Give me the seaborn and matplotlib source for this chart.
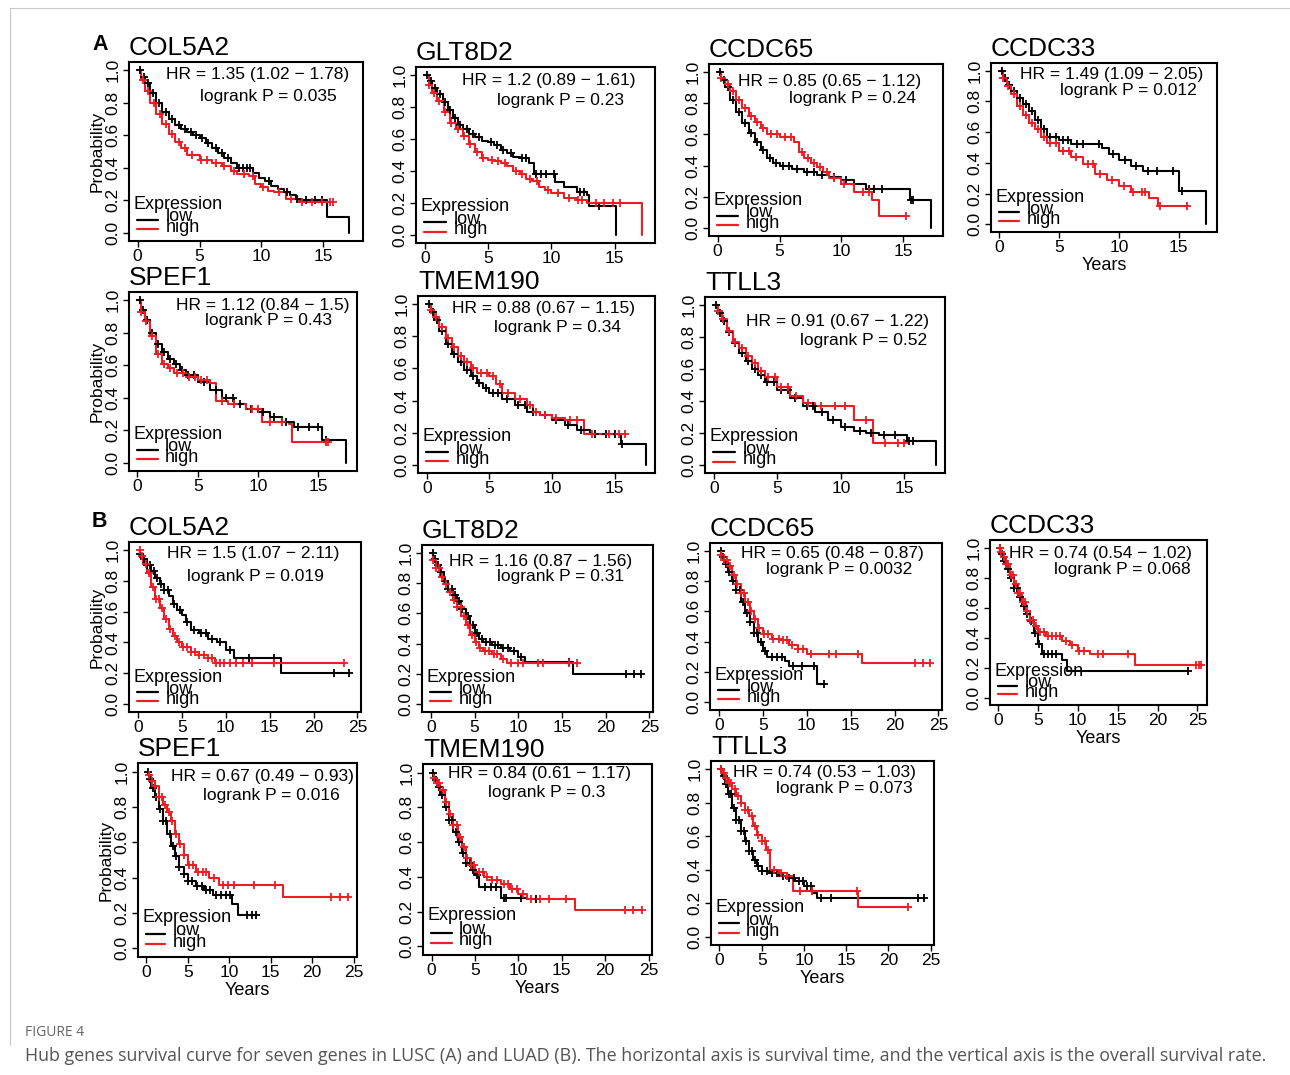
import numpy as np
import pandas as pd
import seaborn as sns
import matplotlib.pyplot as plt
from matplotlib.lines import Line2D

# ---------------- A: LUSC ----------------
# step times / survival after each step / censor times (years)
a_col5a2_low_t = [0, 0.3, 0.6, 1.0, 1.5, 2.0, 2.5, 3.0, 3.5, 4.0, 4.5, 5.0, 5.5, 6.0, 6.5, 7.0, 7.5, 8.0, 9.3, 9.8, 10.3, 10.8, 11.3, 11.8, 12.3, 12.8, 13.2, 15.3, 17.1]
a_col5a2_low_s = [1.0, 0.96, 0.92, 0.86, 0.80, 0.74, 0.70, 0.66, 0.64, 0.62, 0.60, 0.58, 0.55, 0.52, 0.49, 0.46, 0.43, 0.40, 0.37, 0.34, 0.32, 0.29, 0.27, 0.25, 0.23, 0.21, 0.20, 0.10, 0.0]
a_col5a2_low_c = [0.2, 0.5, 0.8, 1.2, 1.7, 2.3, 2.8, 3.3, 3.8, 4.3, 4.7, 5.2, 5.7, 6.3, 6.8, 7.3, 8.2, 8.5, 8.8, 9.1, 10.6, 12.1, 12.9, 13.6, 14.3, 14.9]
a_col5a2_high_t = [0, 0.3, 0.6, 1.0, 1.5, 2.0, 2.5, 3.0, 3.5, 4.0, 5.0, 6.0, 6.8, 7.5, 8.0, 9.0, 9.5, 10.0, 10.5, 11.0, 12.0, 13.0, 15.8]
a_col5a2_high_s = [1.0, 0.94, 0.87, 0.80, 0.73, 0.67, 0.61, 0.56, 0.52, 0.48, 0.45, 0.43, 0.41, 0.38, 0.36, 0.35, 0.30, 0.28, 0.26, 0.25, 0.21, 0.19, 0.19]
a_col5a2_high_c = [0.4, 0.8, 1.3, 1.8, 2.3, 2.8, 3.3, 3.8, 4.4, 5.1, 5.6, 6.3, 7.0, 7.8, 8.6, 9.3, 10.1, 11.4, 12.4, 13.3, 14.1, 14.9, 15.5, 15.8]

a_glt8d2_low_t = [0, 0.3, 0.6, 1.0, 1.4, 1.8, 2.2, 2.6, 3.0, 3.5, 4.0, 4.5, 5.0, 5.5, 6.0, 6.5, 7.0, 7.5, 8.2, 8.6, 10.3, 11.0, 12.0, 12.8, 13.0, 15.1]
a_glt8d2_low_s = [1.0, 0.96, 0.92, 0.88, 0.83, 0.78, 0.73, 0.69, 0.66, 0.63, 0.61, 0.59, 0.58, 0.56, 0.53, 0.51, 0.49, 0.48, 0.45, 0.38, 0.33, 0.30, 0.27, 0.25, 0.18, 0.0]
a_glt8d2_low_c = [0.2, 0.5, 0.8, 1.2, 1.6, 2.0, 2.4, 2.8, 3.3, 3.8, 4.3, 5.2, 5.7, 6.2, 6.8, 7.7, 8.0, 8.8, 9.2, 9.6, 10.2, 12.3, 12.6, 13.8]
a_glt8d2_high_t = [0, 0.3, 0.6, 1.0, 1.5, 2.0, 2.5, 3.0, 3.5, 4.0, 4.5, 5.0, 5.5, 6.0, 6.5, 7.0, 7.5, 8.0, 8.5, 9.0, 9.5, 10.0, 11.0, 12.0, 12.8, 17.2]
a_glt8d2_high_s = [1.0, 0.94, 0.89, 0.84, 0.77, 0.70, 0.66, 0.62, 0.57, 0.52, 0.48, 0.47, 0.46, 0.45, 0.43, 0.40, 0.38, 0.35, 0.34, 0.30, 0.28, 0.26, 0.23, 0.22, 0.20, 0.0]
a_glt8d2_high_c = [0.3, 0.7, 1.1, 1.6, 2.1, 2.6, 3.1, 3.6, 4.1, 4.6, 5.3, 5.8, 6.3, 7.2, 7.7, 8.3, 8.9, 9.7, 10.5, 11.4, 12.1, 12.4, 13.5, 14.2, 14.9, 15.4]

a_ccdc65_low_t = [0, 0.3, 0.6, 1.0, 1.5, 2.0, 2.5, 3.0, 3.5, 4.0, 4.5, 5.0, 6.0, 7.0, 8.0, 9.0, 10.0, 11.0, 12.0, 15.5, 17.2]
a_ccdc65_low_s = [1.0, 0.95, 0.90, 0.82, 0.74, 0.67, 0.61, 0.55, 0.50, 0.45, 0.42, 0.40, 0.38, 0.36, 0.34, 0.33, 0.31, 0.28, 0.25, 0.18, 0.0]
a_ccdc65_low_c = [0.2, 0.5, 0.8, 1.2, 1.7, 2.2, 2.7, 3.2, 3.7, 4.2, 4.7, 5.3, 5.8, 6.4, 7.2, 7.8, 8.4, 9.4, 10.4, 12.2, 12.6, 13.3, 15.6, 15.8]
a_ccdc65_high_t = [0, 0.3, 0.6, 1.0, 1.5, 2.0, 2.5, 3.0, 3.5, 4.0, 5.0, 6.2, 6.6, 7.0, 7.5, 8.0, 8.5, 9.0, 10.0, 11.0, 12.5, 13.0, 15.2]
a_ccdc65_high_s = [1.0, 0.96, 0.92, 0.88, 0.82, 0.77, 0.72, 0.68, 0.64, 0.60, 0.58, 0.55, 0.49, 0.45, 0.42, 0.39, 0.36, 0.32, 0.28, 0.23, 0.18, 0.08, 0.08]
a_ccdc65_high_c = [0.3, 0.8, 1.2, 1.7, 2.2, 2.7, 3.2, 3.7, 4.3, 4.8, 5.4, 5.9, 6.8, 7.3, 7.8, 8.3, 8.8, 9.4, 10.2, 11.7, 12.2, 15.2]

a_ccdc33_low_t = [0, 0.3, 0.6, 1.0, 1.5, 2.0, 2.5, 3.0, 3.5, 4.0, 5.0, 6.0, 8.6, 9.2, 10.0, 11.0, 12.0, 15.0, 17.3]
a_ccdc33_low_s = [1.0, 0.95, 0.91, 0.87, 0.82, 0.78, 0.74, 0.68, 0.62, 0.57, 0.55, 0.52, 0.50, 0.46, 0.42, 0.38, 0.35, 0.22, 0.0]
a_ccdc33_low_c = [0.2, 0.5, 0.8, 1.2, 1.7, 2.2, 2.7, 3.2, 3.7, 4.2, 4.7, 5.3, 5.7, 6.5, 7.0, 8.3, 9.5, 10.5, 11.4, 12.4, 13.2, 14.5, 15.3]
a_ccdc33_high_t = [0, 0.3, 0.6, 1.0, 1.5, 2.0, 2.5, 3.0, 3.5, 4.0, 5.0, 6.0, 7.0, 8.0, 9.0, 10.0, 11.0, 12.5, 13.3, 15.7]
a_ccdc33_high_s = [1.0, 0.95, 0.90, 0.85, 0.77, 0.71, 0.66, 0.62, 0.57, 0.53, 0.48, 0.44, 0.39, 0.33, 0.29, 0.25, 0.21, 0.17, 0.12, 0.12]
a_ccdc33_high_c = [0.3, 0.7, 1.2, 1.7, 2.2, 2.7, 3.2, 3.7, 4.2, 4.7, 5.3, 5.8, 6.4, 7.4, 7.8, 8.4, 9.4, 10.4, 11.2, 11.9, 12.2, 13.4, 15.7]

a_spef1_low_t = [0, 0.3, 0.6, 1.0, 1.5, 2.0, 2.5, 3.0, 3.5, 4.0, 5.0, 6.0, 7.0, 8.0, 9.0, 10.0, 11.0, 12.0, 13.0, 15.3, 17.3]
a_spef1_low_s = [1.0, 0.94, 0.88, 0.80, 0.73, 0.68, 0.64, 0.61, 0.57, 0.54, 0.50, 0.45, 0.40, 0.36, 0.33, 0.31, 0.28, 0.25, 0.22, 0.14, 0.0]
a_spef1_low_c = [0.2, 0.5, 0.8, 1.2, 1.7, 2.2, 2.7, 3.2, 3.7, 4.2, 4.7, 5.5, 6.5, 7.3, 7.9, 8.5, 9.4, 10.4, 11.3, 12.3, 13.3, 14.2, 15.0, 15.6]
a_spef1_high_t = [0, 0.3, 0.6, 1.0, 1.5, 2.0, 2.5, 3.0, 4.0, 5.0, 6.0, 6.5, 7.5, 9.0, 10.3, 12.6, 12.8, 15.8]
a_spef1_high_s = [1.0, 0.93, 0.87, 0.78, 0.67, 0.61, 0.58, 0.55, 0.53, 0.51, 0.49, 0.38, 0.36, 0.33, 0.25, 0.24, 0.13, 0.13]
a_spef1_high_c = [0.3, 0.7, 1.2, 1.7, 2.2, 2.7, 3.3, 3.8, 4.3, 4.8, 5.3, 5.8, 7.0, 8.0, 9.5, 10.0, 11.0, 12.0, 15.6, 15.8]

a_tmem190_low_t = [0, 0.3, 0.6, 1.0, 1.5, 2.0, 2.5, 3.0, 3.5, 4.0, 4.5, 5.0, 6.0, 7.0, 8.0, 9.0, 10.0, 11.0, 12.0, 13.0, 15.5, 17.5]
a_tmem190_low_s = [1.0, 0.95, 0.90, 0.83, 0.75, 0.69, 0.64, 0.59, 0.55, 0.51, 0.48, 0.45, 0.41, 0.37, 0.33, 0.31, 0.28, 0.25, 0.22, 0.19, 0.13, 0.0]
a_tmem190_low_c = [0.2, 0.5, 0.8, 1.2, 1.7, 2.2, 2.7, 3.2, 3.7, 4.2, 4.7, 5.3, 5.7, 6.4, 7.3, 7.8, 8.5, 9.4, 10.3, 11.3, 12.3, 13.4, 14.3, 15.0, 15.6]
a_tmem190_high_t = [0, 0.3, 0.6, 1.0, 1.5, 2.0, 2.5, 3.0, 3.5, 4.0, 5.0, 5.5, 6.0, 7.0, 8.0, 8.5, 9.0, 10.0, 11.0, 12.5, 15.8]
a_tmem190_high_s = [1.0, 0.96, 0.92, 0.86, 0.79, 0.73, 0.68, 0.64, 0.60, 0.57, 0.55, 0.50, 0.45, 0.41, 0.37, 0.33, 0.31, 0.29, 0.28, 0.19, 0.19]
a_tmem190_high_c = [0.3, 0.7, 1.2, 1.7, 2.2, 2.7, 3.2, 3.7, 4.3, 4.8, 5.3, 5.8, 6.5, 7.4, 8.2, 8.7, 9.4, 10.3, 11.4, 12.0, 13.2, 14.5, 15.3, 15.8]

a_ttll3_low_t = [0, 0.3, 0.6, 1.0, 1.5, 2.0, 2.5, 3.0, 3.5, 4.0, 5.0, 6.0, 7.0, 8.0, 9.0, 10.0, 11.0, 12.0, 13.0, 15.2, 17.5]
a_ttll3_low_s = [1.0, 0.95, 0.90, 0.83, 0.76, 0.70, 0.65, 0.60, 0.56, 0.52, 0.47, 0.42, 0.37, 0.33, 0.28, 0.24, 0.21, 0.20, 0.19, 0.15, 0.0]
a_ttll3_low_c = [0.2, 0.5, 0.8, 1.2, 1.7, 2.2, 2.7, 3.2, 3.7, 4.2, 4.7, 5.3, 5.8, 6.4, 7.3, 7.8, 8.5, 9.4, 10.3, 11.5, 12.4, 13.4, 14.3, 15.4, 15.7]
a_ttll3_high_t = [0, 0.3, 0.6, 1.0, 1.5, 2.0, 2.5, 3.0, 3.5, 4.0, 5.0, 6.0, 7.0, 8.0, 11.0, 12.5, 15.0]
a_ttll3_high_s = [1.0, 0.96, 0.91, 0.84, 0.77, 0.73, 0.68, 0.64, 0.59, 0.55, 0.49, 0.43, 0.39, 0.37, 0.28, 0.14, 0.14]
a_ttll3_high_c = [0.3, 0.7, 1.2, 1.7, 2.2, 2.7, 3.2, 3.7, 4.3, 4.8, 5.3, 5.8, 6.5, 7.4, 8.4, 9.5, 10.3, 12.0, 13.5, 14.5, 15.0]

# ---------------- B: LUAD ----------------
b_col5a2_low_t = [0, 0.3, 0.6, 1.0, 1.5, 2.0, 2.5, 3.0, 3.5, 4.0, 4.5, 5.0, 5.5, 6.0, 7.0, 8.0, 9.0, 10.0, 11.0, 16.3, 24.0]
b_col5a2_low_s = [1.0, 0.97, 0.94, 0.90, 0.86, 0.82, 0.78, 0.74, 0.70, 0.65, 0.61, 0.58, 0.53, 0.48, 0.46, 0.42, 0.40, 0.35, 0.30, 0.20, 0.20]
b_col5a2_low_c = [0.3, 0.7, 1.1, 1.4, 1.8, 2.2, 2.6, 3.0, 3.4, 4.1, 4.8, 5.6, 6.4, 7.2, 7.8, 8.5, 9.3, 10.5, 12.6, 15.5, 22.3, 24.0]
b_col5a2_high_t = [0, 0.3, 0.6, 1.0, 1.5, 2.0, 2.5, 3.0, 3.5, 4.0, 4.5, 5.0, 6.0, 7.0, 8.0, 8.8, 23.5]
b_col5a2_high_s = [1.0, 0.96, 0.91, 0.85, 0.76, 0.68, 0.62, 0.55, 0.49, 0.44, 0.40, 0.37, 0.34, 0.32, 0.30, 0.27, 0.27]
b_col5a2_high_c = [0.2, 0.5, 0.9, 1.3, 1.7, 2.1, 2.4, 2.8, 3.2, 3.7, 4.2, 4.7, 5.2, 5.6, 6.1, 6.5, 7.0, 7.5, 8.0, 8.5, 8.9, 9.3, 9.8, 10.5, 11.2, 12.0, 13.0, 15.5, 23.5]

b_glt8d2_low_t = [0, 0.3, 0.6, 1.0, 1.5, 2.0, 2.5, 3.0, 3.5, 4.0, 4.5, 5.0, 5.5, 6.0, 7.0, 8.0, 9.0, 10.0, 10.8, 16.3, 24.0]
b_glt8d2_low_s = [1.0, 0.96, 0.92, 0.87, 0.81, 0.76, 0.72, 0.68, 0.63, 0.58, 0.52, 0.47, 0.43, 0.41, 0.39, 0.37, 0.35, 0.31, 0.28, 0.20, 0.20]
b_glt8d2_low_c = [0.2, 0.5, 0.8, 1.2, 1.6, 2.0, 2.4, 2.8, 3.2, 3.6, 4.2, 4.8, 5.3, 5.8, 6.3, 6.8, 7.3, 7.7, 8.2, 8.8, 9.5, 10.3, 15.8, 22.3, 23.2, 24.0]
b_glt8d2_high_t = [0, 0.3, 0.6, 1.0, 1.5, 2.0, 2.5, 3.0, 3.5, 4.0, 4.5, 5.0, 5.5, 6.0, 7.0, 8.0, 8.7, 16.7]
b_glt8d2_high_s = [1.0, 0.95, 0.90, 0.84, 0.79, 0.74, 0.69, 0.64, 0.58, 0.52, 0.46, 0.41, 0.37, 0.35, 0.33, 0.30, 0.27, 0.27]
b_glt8d2_high_c = [0.3, 0.6, 0.9, 1.3, 1.7, 2.2, 2.6, 3.0, 3.4, 3.8, 4.3, 4.7, 5.2, 5.6, 6.2, 6.6, 7.2, 7.6, 8.3, 9.2, 10.0, 10.5, 12.2, 12.8, 15.8, 16.7]

b_ccdc65_low_t = [0, 0.3, 0.6, 1.0, 1.5, 2.0, 2.5, 3.0, 3.5, 4.0, 4.5, 5.0, 5.5, 7.5, 8.0, 11.2, 12.0]
b_ccdc65_low_s = [1.0, 0.96, 0.91, 0.86, 0.80, 0.74, 0.66, 0.59, 0.53, 0.46, 0.40, 0.34, 0.30, 0.27, 0.24, 0.12, 0.12]
b_ccdc65_low_c = [0.2, 0.5, 0.8, 1.2, 1.6, 2.0, 2.4, 2.8, 3.2, 3.6, 4.0, 4.4, 4.8, 5.3, 6.0, 6.6, 7.2, 8.5, 9.5, 10.8, 12.0]
b_ccdc65_high_t = [0, 0.3, 0.6, 1.0, 1.5, 2.0, 2.5, 3.0, 3.5, 4.0, 4.5, 5.0, 6.0, 7.0, 8.0, 9.0, 10.0, 16.3, 24.0]
b_ccdc65_high_s = [1.0, 0.97, 0.94, 0.90, 0.84, 0.78, 0.72, 0.66, 0.60, 0.55, 0.49, 0.45, 0.42, 0.41, 0.38, 0.35, 0.32, 0.26, 0.26]
b_ccdc65_high_c = [0.3, 0.6, 0.9, 1.3, 1.7, 2.1, 2.5, 2.9, 3.3, 3.7, 4.1, 4.6, 5.1, 5.6, 6.2, 6.8, 7.3, 7.8, 8.3, 9.0, 9.6, 10.5, 12.5, 13.3, 15.8, 22.3, 23.2, 24.0]

b_ccdc33_low_t = [0, 0.3, 0.6, 1.0, 1.5, 2.0, 2.5, 3.0, 3.5, 4.0, 4.5, 5.0, 5.5, 8.0, 8.6, 23.8]
b_ccdc33_low_s = [1.0, 0.96, 0.91, 0.86, 0.80, 0.73, 0.67, 0.61, 0.56, 0.51, 0.43, 0.36, 0.29, 0.25, 0.18, 0.18]
b_ccdc33_low_c = [0.2, 0.5, 0.8, 1.2, 1.6, 2.0, 2.4, 2.8, 3.2, 3.6, 4.1, 4.6, 5.2, 5.8, 6.3, 6.8, 7.3, 23.8]
b_ccdc33_high_t = [0, 0.3, 0.6, 1.0, 1.5, 2.0, 2.5, 3.0, 3.5, 4.0, 4.5, 5.0, 6.0, 8.0, 9.0, 10.0, 11.5, 17.2, 25.5]
b_ccdc33_high_s = [1.0, 0.97, 0.94, 0.89, 0.82, 0.76, 0.70, 0.64, 0.58, 0.52, 0.48, 0.44, 0.41, 0.38, 0.35, 0.31, 0.29, 0.22, 0.22]
b_ccdc33_high_c = [0.2, 0.4, 0.7, 1.0, 1.3, 1.6, 1.9, 2.2, 2.5, 2.8, 3.1, 3.4, 3.7, 4.0, 4.4, 4.8, 5.3, 5.8, 6.3, 6.8, 7.3, 7.8, 8.5, 9.3, 10.2, 10.8, 12.5, 13.2, 16.3, 24.8, 25.2, 25.5]

b_spef1_low_t = [0, 0.3, 0.6, 1.0, 1.5, 2.0, 2.5, 3.0, 3.5, 4.0, 4.5, 5.0, 6.0, 7.0, 8.0, 10.3, 11.0, 13.2]
b_spef1_low_s = [1.0, 0.96, 0.91, 0.86, 0.79, 0.72, 0.65, 0.58, 0.52, 0.46, 0.42, 0.38, 0.35, 0.33, 0.30, 0.25, 0.19, 0.19]
b_spef1_low_c = [0.2, 0.5, 0.8, 1.2, 1.6, 2.0, 2.4, 2.8, 3.2, 3.6, 4.0, 4.5, 5.0, 5.5, 6.1, 6.7, 7.2, 7.7, 8.4, 9.0, 9.6, 10.1, 12.2, 12.7, 13.2]
b_spef1_high_t = [0, 0.3, 0.6, 1.0, 1.5, 2.0, 2.5, 3.0, 3.5, 4.0, 4.5, 5.0, 6.0, 7.5, 8.8, 16.5, 24.3]
b_spef1_high_s = [1.0, 0.98, 0.95, 0.92, 0.86, 0.81, 0.77, 0.72, 0.65, 0.59, 0.53, 0.47, 0.43, 0.40, 0.36, 0.29, 0.29]
b_spef1_high_c = [0.3, 0.7, 1.1, 1.5, 1.9, 2.3, 2.7, 3.1, 3.6, 4.1, 4.6, 5.1, 5.6, 6.2, 6.8, 7.2, 8.2, 9.2, 9.8, 10.6, 13.0, 15.5, 22.3, 23.3, 24.3]

b_tmem190_low_t = [0, 0.3, 0.6, 1.0, 1.5, 2.0, 2.5, 3.0, 3.5, 4.0, 4.5, 5.0, 5.5, 8.0, 11.0, 12.0]
b_tmem190_low_s = [1.0, 0.96, 0.92, 0.87, 0.80, 0.73, 0.66, 0.60, 0.54, 0.48, 0.44, 0.41, 0.34, 0.28, 0.27, 0.27]
b_tmem190_low_c = [0.2, 0.5, 0.8, 1.2, 1.6, 2.0, 2.4, 2.8, 3.2, 3.6, 4.0, 4.4, 4.8, 5.2, 6.2, 6.8, 7.4, 8.3, 8.6, 10.3, 12.0]
b_tmem190_high_t = [0, 0.3, 0.6, 1.0, 1.5, 2.0, 2.5, 3.0, 3.5, 4.0, 4.5, 5.0, 6.0, 7.0, 8.0, 9.0, 10.0, 11.0, 16.5, 24.3]
b_tmem190_high_s = [1.0, 0.97, 0.94, 0.90, 0.83, 0.76, 0.70, 0.63, 0.57, 0.51, 0.47, 0.43, 0.40, 0.38, 0.36, 0.33, 0.30, 0.27, 0.21, 0.21]
b_tmem190_high_c = [0.3, 0.6, 0.9, 1.3, 1.7, 2.1, 2.5, 2.9, 3.3, 3.7, 4.1, 4.5, 4.9, 5.4, 5.9, 6.4, 7.0, 7.5, 8.3, 8.8, 9.3, 9.8, 10.5, 11.5, 12.5, 13.5, 15.5, 22.3, 23.2, 24.3]

b_ttll3_low_t = [0, 0.3, 0.6, 1.0, 1.5, 2.0, 2.5, 3.0, 3.5, 4.0, 4.5, 5.0, 6.0, 7.0, 8.0, 9.0, 10.0, 11.0, 11.5, 24.2]
b_ttll3_low_s = [1.0, 0.96, 0.91, 0.85, 0.77, 0.70, 0.63, 0.57, 0.51, 0.46, 0.42, 0.39, 0.38, 0.36, 0.35, 0.33, 0.30, 0.26, 0.23, 0.23]
b_ttll3_low_c = [0.2, 0.5, 0.8, 1.1, 1.4, 1.7, 2.0, 2.3, 2.6, 2.9, 3.2, 3.5, 3.8, 4.2, 4.6, 5.0, 5.6, 6.2, 6.8, 7.5, 8.2, 8.8, 9.4, 9.9, 10.4, 10.8, 12.0, 13.2, 23.5, 24.2]
b_ttll3_high_t = [0, 0.3, 0.6, 1.0, 1.5, 2.0, 2.5, 3.0, 3.5, 4.0, 4.5, 5.0, 5.5, 6.0, 7.0, 8.0, 8.7, 16.4, 22.3]
b_ttll3_high_s = [1.0, 0.98, 0.95, 0.92, 0.88, 0.84, 0.80, 0.76, 0.72, 0.66, 0.61, 0.57, 0.52, 0.40, 0.38, 0.36, 0.27, 0.18, 0.18]
b_ttll3_high_c = [0.2, 0.5, 0.8, 1.1, 1.4, 1.8, 2.2, 2.6, 3.0, 3.4, 3.8, 4.2, 4.6, 5.0, 5.4, 5.8, 6.5, 7.3, 8.0, 9.5, 11.0, 16.3, 22.3]

genes = ["COL5A2", "GLT8D2", "CCDC65", "CCDC33", "SPEF1", "TMEM190", "TTLL3"]
a_hr = ["1.35 (1.02 \u2212 1.78)", "1.2 (0.89 \u2212 1.61)", "0.85 (0.65 \u2212 1.12)", "1.49 (1.09 \u2212 2.05)",
        "1.12 (0.84 \u2212 1.5)", "0.88 (0.67 \u2212 1.15)", "0.91 (0.67 \u2212 1.22)"]
a_p = ["0.035", "0.23", "0.24", "0.012", "0.43", "0.34", "0.52"]
b_hr = ["1.5 (1.07 \u2212 2.11)", "1.16 (0.87 \u2212 1.56)", "0.65 (0.48 \u2212 0.87)", "0.74 (0.54 \u2212 1.02)",
        "0.67 (0.49 \u2212 0.93)", "0.84 (0.61 \u2212 1.17)", "0.74 (0.53 \u2212 1.03)"]
b_p = ["0.019", "0.31", "0.0032", "0.068", "0.016", "0.3", "0.073"]

caption = ("Hub genes survival curve for seven genes in LUSC (A) and LUAD (B). The horizontal axis is "
           "survival time, and the vertical axis is the overall survival rate.")

curves_a = [
    (a_col5a2_low_t, a_col5a2_low_s, a_col5a2_low_c, a_col5a2_high_t, a_col5a2_high_s, a_col5a2_high_c),
    (a_glt8d2_low_t, a_glt8d2_low_s, a_glt8d2_low_c, a_glt8d2_high_t, a_glt8d2_high_s, a_glt8d2_high_c),
    (a_ccdc65_low_t, a_ccdc65_low_s, a_ccdc65_low_c, a_ccdc65_high_t, a_ccdc65_high_s, a_ccdc65_high_c),
    (a_ccdc33_low_t, a_ccdc33_low_s, a_ccdc33_low_c, a_ccdc33_high_t, a_ccdc33_high_s, a_ccdc33_high_c),
    (a_spef1_low_t, a_spef1_low_s, a_spef1_low_c, a_spef1_high_t, a_spef1_high_s, a_spef1_high_c),
    (a_tmem190_low_t, a_tmem190_low_s, a_tmem190_low_c, a_tmem190_high_t, a_tmem190_high_s, a_tmem190_high_c),
    (a_ttll3_low_t, a_ttll3_low_s, a_ttll3_low_c, a_ttll3_high_t, a_ttll3_high_s, a_ttll3_high_c),
]
curves_b = [
    (b_col5a2_low_t, b_col5a2_low_s, b_col5a2_low_c, b_col5a2_high_t, b_col5a2_high_s, b_col5a2_high_c),
    (b_glt8d2_low_t, b_glt8d2_low_s, b_glt8d2_low_c, b_glt8d2_high_t, b_glt8d2_high_s, b_glt8d2_high_c),
    (b_ccdc65_low_t, b_ccdc65_low_s, b_ccdc65_low_c, b_ccdc65_high_t, b_ccdc65_high_s, b_ccdc65_high_c),
    (b_ccdc33_low_t, b_ccdc33_low_s, b_ccdc33_low_c, b_ccdc33_high_t, b_ccdc33_high_s, b_ccdc33_high_c),
    (b_spef1_low_t, b_spef1_low_s, b_spef1_low_c, b_spef1_high_t, b_spef1_high_s, b_spef1_high_c),
    (b_tmem190_low_t, b_tmem190_low_s, b_tmem190_low_c, b_tmem190_high_t, b_tmem190_high_s, b_tmem190_high_c),
    (b_ttll3_low_t, b_ttll3_low_s, b_ttll3_low_c, b_ttll3_high_t, b_ttll3_high_s, b_ttll3_high_c),
]

# layout: box in pixels (left, top, right, bottom), HR/logrank text centres (axes fraction),
# show "Probability", show "Years"
layout_a = [
    ((129, 62, 363, 241), (0.55, 0.93, 0.595, 0.81), True, False),
    ((416, 67, 655, 243), (0.556, 0.926, 0.603, 0.807), False, False),
    ((709, 64, 943, 236), (0.517, 0.90, 0.615, 0.80), False, False),
    ((991, 63, 1217, 232), (0.535, 0.93, 0.61, 0.835), False, True),
    ((129, 292, 357, 471), (0.585, 0.927, 0.61, 0.838), True, False),
    ((418, 296, 655, 473), (0.53, 0.927, 0.59, 0.82), False, False),
    ((705, 297, 945, 473), (0.55, 0.86, 0.66, 0.75), False, False),
]
layout_b = [
    ((129, 542, 361, 712), (0.534, 0.935, 0.547, 0.80), True, False),
    ((422, 545, 653, 712), (0.515, 0.90, 0.60, 0.81), False, False),
    ((710, 543, 942, 710), (0.526, 0.94, 0.556, 0.84), False, False),
    ((990, 540, 1207, 705), (0.51, 0.92, 0.61, 0.82), False, True),
    ((138, 763, 357, 957), (0.57, 0.93, 0.61, 0.83), True, True),
    ((423, 764, 652, 955), (0.51, 0.95, 0.54, 0.85), False, True),
    ((711, 761, 934, 945), (0.51, 0.935, 0.60, 0.85), False, True),
]

LOW, HIGH = "#000000", "#ee1c25"
W, H = 1290, 1075

sns.set_style("ticks")
plt.rcParams["font.family"] = ["Liberation Sans", "DejaVu Sans"]
plt.rcParams["text.color"] = "black"
plt.rcParams["axes.labelcolor"] = "black"
plt.rcParams["xtick.color"] = "black"
plt.rcParams["ytick.color"] = "black"

fig = plt.figure(figsize=(W / 100, H / 100), dpi=100)


def draw_curve(ax, t, s, cens, color):
    df = pd.DataFrame({"time": t, "surv": s})
    sns.lineplot(data=df, x="time", y="surv", drawstyle="steps-post", color=color,
                 lw=1.5, estimator=None, ax=ax)
    idx = np.searchsorted(t, cens, side="right") - 1
    sns.scatterplot(x=np.asarray(cens), y=np.asarray(s)[idx], marker="+", color=color,
                    s=36, linewidth=1.3, ax=ax, legend=False, zorder=3)


def panel(curves, lay, gene, hr, p, xlim, xticks):
    (l, t, r, b), (hx, hy, px, py), ylab, xlab = lay
    ax = fig.add_axes([l / W, 1 - b / H, (r - l) / W, (b - t) / H])
    lt, ls, lc, ht, hs, hc = curves
    draw_curve(ax, lt, ls, lc, LOW)
    draw_curve(ax, ht, hs, hc, HIGH)
    ax.set_xlim(*xlim)
    ax.set_ylim(-0.05, 1.05)
    ax.set_xticks(xticks)
    ax.set_xticklabels([str(v) for v in xticks])
    yt = [0, 0.2, 0.4, 0.6, 0.8, 1.0]
    ax.set_yticks(yt)
    ax.set_yticklabels([f"{v:.1f}" for v in yt], rotation=90, va="center")
    ax.tick_params(length=4, width=1, labelsize=12.5, pad=2, colors="black")
    for sp in ax.spines.values():
        sp.set_visible(True)
        sp.set_linewidth(1.5)
        sp.set_color("black")
    ax.set_ylabel("Probability" if ylab else "", fontsize=12.5, labelpad=1)
    ax.set_xlabel("Years" if xlab else "", fontsize=13, labelpad=1)
    ax.text(0.0, 1.012, gene, transform=ax.transAxes, fontsize=19, ha="left", va="bottom")
    ax.text(hx, hy, f"HR = {hr}", transform=ax.transAxes, fontsize=12.5, ha="center", va="center")
    ax.text(px, py, f"logrank P = {p}", transform=ax.transAxes, fontsize=12.5, ha="center", va="center")
    # legend block in the lower left (lines crowd together as in the source)
    ax.text(0.02, 0.205, "Expression", transform=ax.transAxes, fontsize=13, ha="left", va="center")
    ax.text(0.158, 0.135, "low", transform=ax.transAxes, fontsize=13, ha="left", va="center")
    ax.text(0.158, 0.075, "high", transform=ax.transAxes, fontsize=13, ha="left", va="center")
    ax.plot([0.035, 0.125], [0.117, 0.117], color=LOW, lw=1.6, transform=ax.transAxes)
    ax.plot([0.035, 0.125], [0.065, 0.065], color=HIGH, lw=1.6, transform=ax.transAxes)


for i in range(7):
    panel(curves_a[i], layout_a[i], genes[i], a_hr[i], a_p[i], (-0.7, 18.2), [0, 5, 10, 15])
for i in range(7):
    xl = (-1.0, 26.2) if i == 3 else (-1.0, 25.4)
    panel(curves_b[i], layout_b[i], genes[i], b_hr[i], b_p[i], xl, [0, 5, 10, 15, 20, 25])

fig.text(92 / W, 1 - 45 / H, "A", fontsize=15.5, fontweight="bold", va="center", ha="left")
fig.text(92 / W, 1 - 521 / H, "B", fontsize=15.5, fontweight="bold", va="center", ha="left")

# thin frame lines of the figure box
fig.add_artist(Line2D([10 / W, 1], [1 - 8 / H, 1 - 8 / H], color="#c8c8c8", lw=0.8))
fig.add_artist(Line2D([10 / W, 10 / W], [1 - 8 / H, 1 - 1045 / H], color="#c8c8c8", lw=0.8))

fig.text(25 / W, 1 - 1033 / H, "FIGURE 4", fontsize=10, color="#666666", family="Open Sans",
         va="center", ha="left")
cap = fig.text(25 / W, 1 - 1056 / H, caption, fontsize=12, color="#555555", family="Open Sans",
               va="center", ha="left")
fig.canvas.draw()
w = cap.get_window_extent().width
cap.set_fontsize(12 * 1243 / w)

fig.savefig("out.png", dpi=100, facecolor="white")
